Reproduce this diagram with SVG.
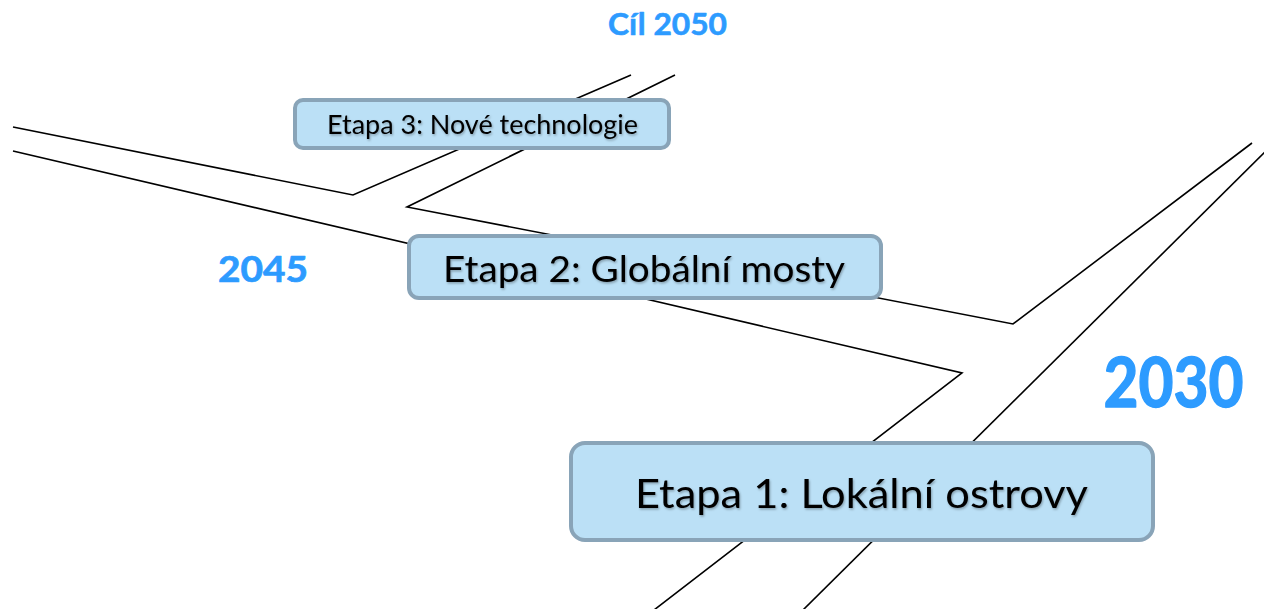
<svg xmlns="http://www.w3.org/2000/svg" width="1264" height="609" viewBox="0 0 1264 609">
  <style>
    .road { fill: none; stroke: #000; stroke-width: 1.6; stroke-linejoin: miter; }
    .stage rect { fill: #BBE0F6; stroke: #89A4B8; stroke-width: 4; }
    .stage text { font-family: Lato, "Open Sans", "Liberation Sans", sans-serif; fill: #000; text-anchor: middle; filter: url(#txtShadow); }
    .year { font-family: Lato, "Open Sans", "Liberation Sans", sans-serif; font-weight: bold; fill: #2D9BFF; stroke: #2D9BFF; stroke-linejoin: round; text-anchor: middle; }
  </style>
  <defs>
    <filter id="txtShadow" x="-5%" y="-20%" width="110%" height="140%">
      <feDropShadow dx="1" dy="1.5" stdDeviation="1" flood-color="#000" flood-opacity="0.3"/>
    </filter>
  </defs>

  <rect width="1264" height="609" fill="#fff"/>

  <!-- road edges -->
  <g id="connectors">
    <polyline class="road" points="1252,143 1013,324 407,207 675,75"/>
    <polyline class="road" points="13,127 353,195 631,75"/>
    <polyline class="road" points="13,151 962,373 654,610"/>
    <polyline class="road" points="1266,151 803,610"/>
  </g>

  <!-- year labels -->
  <g id="label-2050">
    <text class="year" x="667.5" y="35" font-size="31" stroke-width="0.6" textLength="119" lengthAdjust="spacingAndGlyphs">Cíl 2050</text>
  </g>
  <g id="label-2045">
    <text class="year" x="263" y="282" font-size="36" stroke-width="0.7" textLength="90" lengthAdjust="spacingAndGlyphs">2045</text>
  </g>
  <g id="label-2030">
    <text class="year" x="1173.5" y="407" font-size="68" stroke-width="1.4" textLength="140" lengthAdjust="spacingAndGlyphs">2030</text>
  </g>

  <!-- stages -->
  <g id="stage-3" class="stage">
    <rect x="295" y="100" width="374" height="48" rx="8"/>
    <text x="482.5" y="134" font-size="26.5" textLength="311" lengthAdjust="spacingAndGlyphs">Etapa 3: Nové technologie</text>
  </g>
  <g id="stage-2" class="stage">
    <rect x="409" y="236" width="472" height="62" rx="10"/>
    <text x="644" y="282" font-size="37" textLength="402" lengthAdjust="spacingAndGlyphs">Etapa 2: Globální mosty</text>
  </g>
  <g id="stage-1" class="stage">
    <rect x="571" y="443" width="582" height="97" rx="14"/>
    <text x="861.5" y="508" font-size="41" textLength="453" lengthAdjust="spacingAndGlyphs">Etapa 1: Lokální ostrovy</text>
  </g>
</svg>
